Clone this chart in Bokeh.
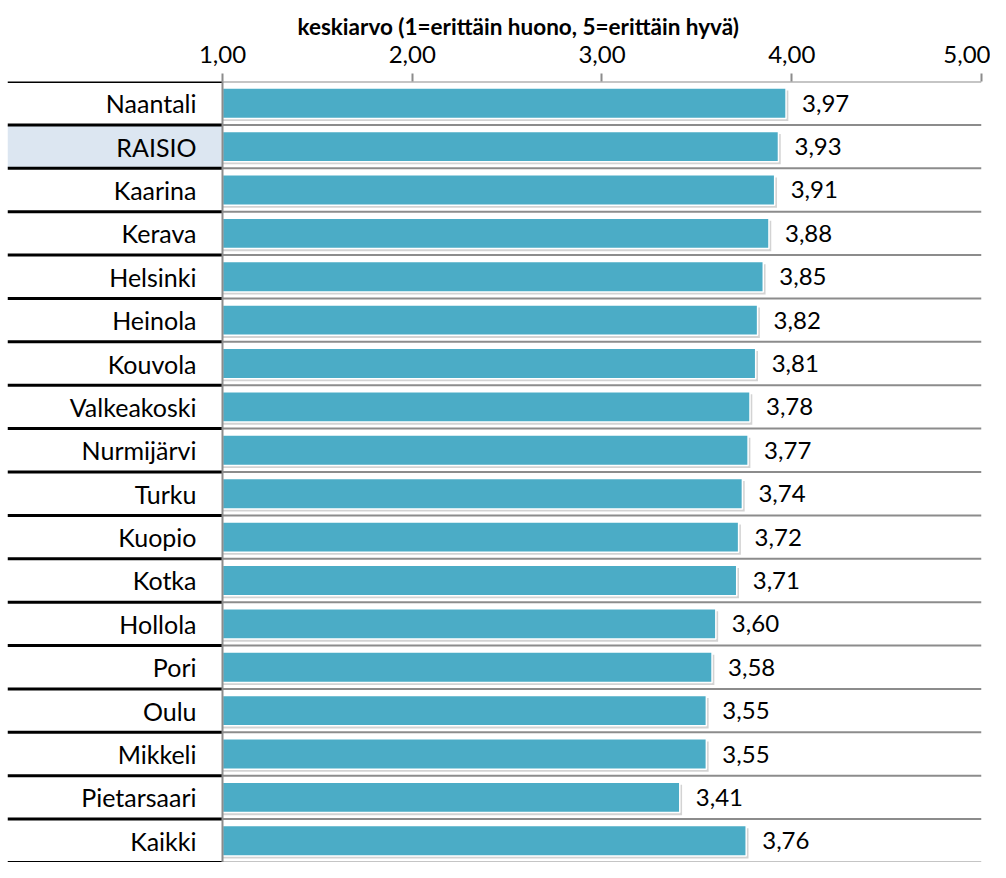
from bokeh.plotting import figure
from bokeh.models import Range1d, LinearAxis, FixedTicker, Span, ColumnDataSource, Title
from bokeh.core.properties import value
from bokeh.embed import file_html
from bokeh.resources import INLINE

categories = ["Naantali", "RAISIO", "Kaarina", "Kerava", "Helsinki", "Heinola", "Kouvola",
              "Valkeakoski", "Nurmijärvi", "Turku", "Kuopio", "Kotka", "Hollola", "Pori",
              "Oulu", "Mikkeli", "Pietarsaari", "Kaikki"]
values = [3.97, 3.93, 3.91, 3.88, 3.85, 3.82, 3.81, 3.78, 3.77, 3.74, 3.72, 3.71,
          3.60, 3.58, 3.55, 3.55, 3.41, 3.76]
highlight = "RAISIO"
tick_values = [1, 2, 3, 4, 5]
tick_labels = ["1,00", "2,00", "3,00", "4,00", "5,00"]
axis_title = "keskiarvo (1=erittäin huono, 5=erittäin hyvä)"

FONT = "Lato"
BAR = "#4BACC6"
GRID = "#8C8C8C"

n = len(categories)
ypos = list(range(n))
x_min, x_max = tick_values[0], tick_values[-1]
x_start = -0.133

p = figure(width=990, height=862, output_backend="svg", toolbar_location=None,
           x_range=Range1d(x_start, x_max), y_range=Range1d(n - 0.5, -0.5),
           min_border_left=7, min_border_right=9, min_border_top=81, min_border_bottom=0,
           x_axis_location=None, y_axis_location=None)
p.outline_line_color = None
p.xgrid.visible = False
p.ygrid.visible = False
p.background_fill_color = "white"
p.border_fill_color = "white"

# top axis
ax = LinearAxis(ticker=FixedTicker(ticks=tick_values),
                major_label_overrides={t: l for t, l in zip(tick_values, tick_labels)})
ax.axis_line_color = None
ax.major_tick_line_color = GRID
ax.major_tick_line_width = 2
ax.major_tick_out = 8
ax.major_tick_in = 0
ax.minor_tick_line_color = None
ax.major_label_standoff = 11
ax.major_label_text_font = FONT
ax.major_label_text_font_size = "24px"
ax.major_label_text_color = "black"
p.add_layout(ax, "above")

p.add_layout(Title(text=axis_title, align="left", offset=290, text_font=FONT,
                   text_font_size="22.5px", text_font_style="bold", text_color="black",
                   standoff=6), "above")

# highlight cell
hi = categories.index(highlight)
p.quad(left=[x_start], right=[x_min], bottom=[hi + 0.5], top=[hi - 0.5],
       fill_color="#DCE6F1", line_color=None)

bounds = [i - 0.5 for i in range(n + 1)]
# gridlines in plot area
p.segment(x0=[x_min] * len(bounds), x1=[x_max] * len(bounds), y0=bounds, y1=bounds,
          line_color=GRID, line_width=2)
# table borders
p.segment(x0=[x_start] * len(bounds), x1=[x_min] * len(bounds), y0=bounds, y1=bounds,
          line_color="black", line_width=3)

p.add_layout(Span(location=x_min, dimension="height", line_color=GRID, line_width=2))

src = ColumnDataSource(dict(
    y=ypos, v=values, cat=categories,
    ys=[y + 0.06 for y in ypos], vs=[v + 0.012 for v in values],
    lab=[f"{v:.2f}".replace(".", ",") for v in values],
    base=[x_min] * n,
))

# shadow
p.hbar(y="ys", left="base", right="vs", height=0.7, source=src,
       fill_color="#808080", fill_alpha=0.35, line_color=None)
p.hbar(y="y", left="base", right="v", height=0.7, source=src,
       fill_color=BAR, line_color="white", line_width=1.5)

p.text(x="v", y="y", text="lab", source=src, x_offset=16, text_align="left",
       text_baseline="middle", text_font=value(FONT), text_font_size="24px", text_color="black")
p.text(x="base", y="y", text="cat", source=src, x_offset=-26, text_align="right",
       text_baseline="middle", text_font=value(FONT), text_font_size="25px", text_color="black")

open("out.html", "w").write(file_html(p, INLINE))
